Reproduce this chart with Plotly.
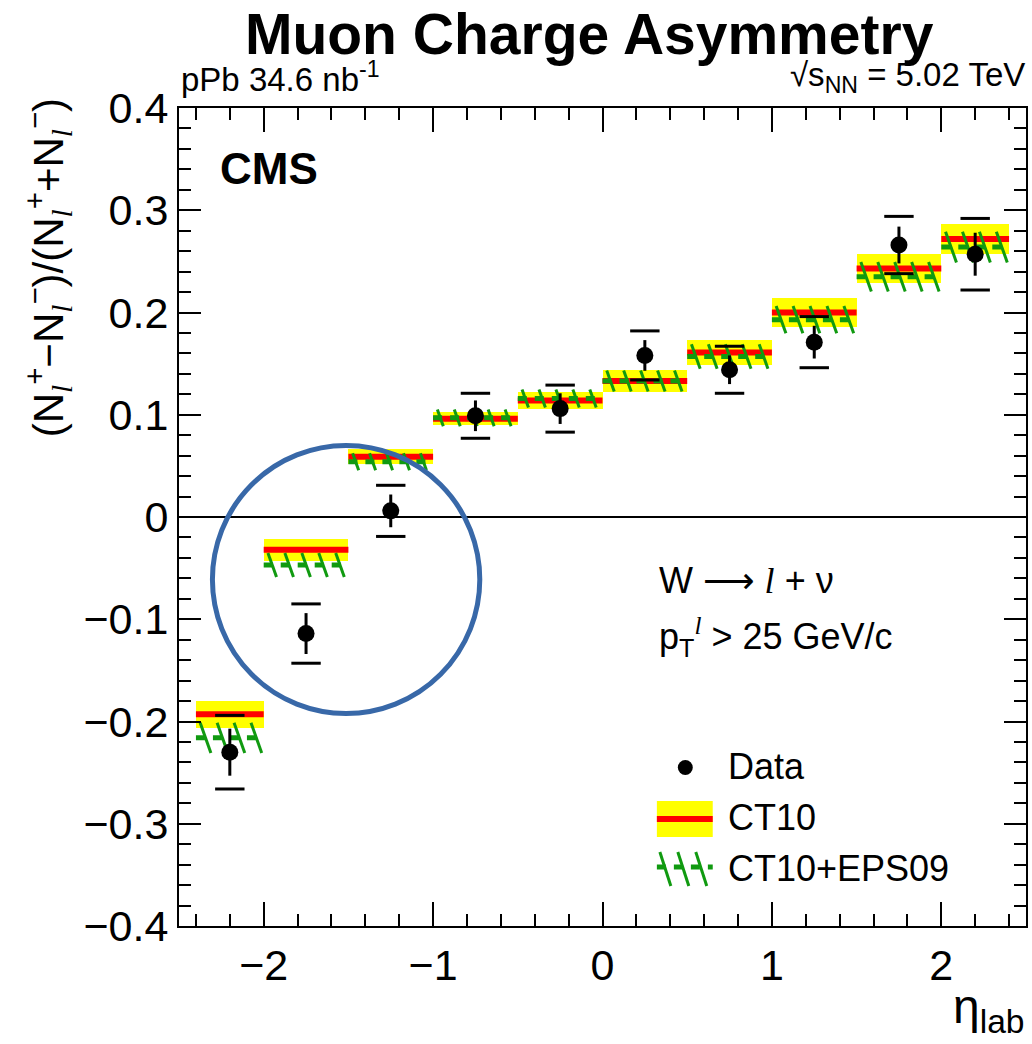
import plotly.graph_objects as go

# ---- data -------------------------------------------------------------
eta_lo = [-2.4, -2.0, -1.5, -1.0, -0.5, 0.0, 0.5, 1.0, 1.5, 2.0]
eta_hi = [-2.0, -1.5, -1.0, -0.5, 0.0, 0.5, 1.0, 1.5, 2.0, 2.4]
eta_pt = [-2.2, -1.75, -1.25, -0.75, -0.25, 0.25, 0.75, 1.25, 1.75, 2.2]

data_asym = [-0.230, -0.114, 0.006, 0.099, 0.106, 0.158, 0.144, 0.171, 0.266, 0.257]
data_stat = [0.023, 0.020, 0.016, 0.015, 0.015, 0.015, 0.014, 0.016, 0.018, 0.021]
data_tot = [0.036, 0.029, 0.025, 0.022, 0.023, 0.024, 0.023, 0.025, 0.028, 0.035]

ct10 = [-0.193, -0.032, 0.059, 0.096, 0.114, 0.133, 0.161, 0.200, 0.243, 0.272]
ct10_err = [0.0132, 0.0106, 0.0074, 0.0065, 0.0080, 0.0110, 0.0120, 0.0146, 0.0144, 0.0146]

eps09 = [-0.216, -0.047, 0.054, 0.097, 0.116, 0.133, 0.157, 0.193, 0.235, 0.264]
eps09_err = [0.0147, 0.0118, 0.0083, 0.0082, 0.0088, 0.0103, 0.0120, 0.0134, 0.0144, 0.0150]

x_ticks = [-2, -1, 0, 1, 2]

# ---- geometry ---------------------------------------------------------
W, H = 1032, 1044
L, R, T, B = 179, 1028, 108, 926
XR = (-2.5, 2.5)
YR = (-0.4, 0.4)
FONT = "Liberation Sans"
YELLOW, RED, GREEN, BLUE = "#ffff00", "#ff0000", "#109a10", "#3868a8"

px_per_x = (R - L) / (XR[1] - XR[0])
px_per_y = (B - T) / (YR[1] - YR[0])


def pxx(x):
    return (x - L) / (R - L)


def pxy(y):
    return (B - y) / (B - T)


fig = go.Figure()

# CT10 uncertainty boxes
fig.add_trace(go.Bar(
    x=[(a + b) / 2 for a, b in zip(eta_lo, eta_hi)],
    y=[2 * e for e in ct10_err],
    base=[c - e for c, e in zip(ct10, ct10_err)],
    width=[b - a for a, b in zip(eta_lo, eta_hi)],
    marker=dict(color=YELLOW, line=dict(width=0)),
    hoverinfo="skip", showlegend=False,
))

# CT10 central values
cx, cy = [], []
for a, b, c in zip(eta_lo, eta_hi, ct10):
    cx += [a, b, None]
    cy += [c, c, None]
fig.add_trace(go.Scatter(x=cx, y=cy, mode="lines",
                         line=dict(color=RED, width=6),
                         hoverinfo="skip", showlegend=False))

# CT10+EPS09 central values (dashed)
ex, ey = [], []
for a, b, c in zip(eta_lo, eta_hi, eps09):
    ex += [a, b, None]
    ey += [c, c, None]
fig.add_trace(go.Scatter(x=ex, y=ey, mode="lines",
                         line=dict(color=GREEN, width=5, dash="9px,8px"),
                         hoverinfo="skip", showlegend=False))

# CT10+EPS09 uncertainty band, drawn as steep back-slash hatching
hx, hy = [], []
step, offset, slope = 0.1, 0.025, 2.8
for a, b, c, e in zip(eta_lo, eta_hi, eps09, eps09_err):
    dx = (2 * e * px_per_y / slope) / px_per_x
    t = a + offset
    while t + dx <= b + 1e-9:
        hx += [t, t + dx, None]
        hy += [c + e, c - e, None]
        t += step
fig.add_trace(go.Scatter(x=hx, y=hy, mode="lines",
                         line=dict(color=GREEN, width=3),
                         hoverinfo="skip", showlegend=False))

# Data: statistical error bars
fig.add_trace(go.Scatter(
    x=eta_pt, y=data_asym, mode="markers",
    marker=dict(color="black", size=17),
    error_y=dict(type="data", array=data_stat, color="black", thickness=3, width=0),
    hoverinfo="skip", showlegend=False,
))

# Data: total uncertainty shown as caps
fig.add_trace(go.Scatter(
    x=eta_pt + eta_pt,
    y=[v + t for v, t in zip(data_asym, data_tot)] + [v - t for v, t in zip(data_asym, data_tot)],
    mode="markers",
    marker=dict(symbol="line-ew", size=21, line=dict(color="black", width=3)),
    hoverinfo="skip", showlegend=False,
))

axis_common = dict(
    showline=True, linecolor="black", linewidth=2, mirror="ticks",
    ticks="inside", tickcolor="black", tickwidth=2,
    showgrid=False,
    tickfont=dict(family=FONT, size=43, color="black"),
)

fig.update_xaxes(
    range=list(XR), tickvals=x_ticks, ticklen=24, zeroline=False,
    minor=dict(dtick=0.2, tick0=0, ticks="inside", ticklen=12, tickwidth=2,
               tickcolor="black", showgrid=False),
    **axis_common,
)
fig.update_yaxes(
    range=list(YR), dtick=0.1, tick0=0, ticklen=22,
    zeroline=True, zerolinecolor="black", zerolinewidth=1.5,
    minor=dict(dtick=0.02, tick0=0, ticks="inside", ticklen=12, tickwidth=2,
               tickcolor="black", showgrid=False),
    **axis_common,
)

shapes = []
annotations = []


def text(x, y, s, size, xanchor="left", bold=False, angle=0, yanchor="middle"):
    annotations.append(dict(
        x=pxx(x), y=pxy(y), xref="paper", yref="paper", text=s,
        showarrow=False, xanchor=xanchor, yanchor=yanchor, textangle=angle,
        font=dict(family=FONT, size=size, color="black",
                  weight="bold" if bold else "normal"),
    ))


text(590, 0, "Muon Charge Asymmetry", 57, xanchor="center", bold=True, yanchor="top")
text(179, 77, "pPb 34.6 nb<sup>-1</sup>", 33)
text(1029, 77, "√s<sub>NN</sub> = 5.02 TeV", 33, xanchor="right")
text(218, 168, "CMS", 44, bold=True)

ell = '<span style="font-family:Liberation Serif"><i>l</i></span>'
arrow = '<span style="font-family:DejaVu Sans">⟶</span>'
text(658, 580, "W " + arrow + " " + ell + " + ν", 36)
text(658, 637, "p<sub>T</sub><sup>" + ell + "</sup> > 25 GeV/c", 36)

text(47, 268,
     "(N<sub>" + ell + "</sub><sup>+</sup>−N<sub>" + ell + "</sub><sup>−</sup>)/(N<sub>"
     + ell + "</sub><sup>+</sup>+N<sub>" + ell + "</sub><sup>−</sup>)",
     42, xanchor="center", angle=-90)

text(1029, 1010, "η<sub>lab</sub>", 48, xanchor="right")

# Legend
text(727, 766, "Data", 36)
text(727, 817, "CT10", 36)
text(727, 868, "CT10+EPS09", 36)

shapes.append(dict(type="circle", xref="paper", yref="paper",
                   x0=pxx(679), x1=pxx(694), y0=pxy(775), y1=pxy(760),
                   fillcolor="black", line=dict(width=0)))
shapes.append(dict(type="rect", xref="paper", yref="paper",
                   x0=pxx(658), x1=pxx(714), y0=pxy(837), y1=pxy(801),
                   fillcolor=YELLOW, line=dict(width=0)))
shapes.append(dict(type="line", xref="paper", yref="paper",
                   x0=pxx(658), x1=pxx(714), y0=pxy(819), y1=pxy(819),
                   line=dict(color=RED, width=6)))
shapes.append(dict(type="line", xref="paper", yref="paper",
                   x0=pxx(658), x1=pxx(714), y0=pxy(867), y1=pxy(867),
                   line=dict(color=GREEN, width=5, dash="9px,8px")))
for hx0 in (661, 679, 697):
    shapes.append(dict(type="line", xref="paper", yref="paper",
                       x0=pxx(hx0), x1=pxx(hx0 + 11), y0=pxy(852), y1=pxy(886),
                       line=dict(color=GREEN, width=3)))

# Highlight circle around the most forward bins
shapes.append(dict(type="circle", xref="x", yref="y",
                   x0=(212.5 - L) / px_per_x + XR[0], x1=(480.5 - L) / px_per_x + XR[0],
                   y0=YR[1] - (713.5 - T) / px_per_y, y1=YR[1] - (445.5 - T) / px_per_y,
                   line=dict(color=BLUE, width=5)))

fig.update_layout(
    width=W, height=H,
    margin=dict(l=L, r=W - R, t=T, b=H - B, pad=0),
    paper_bgcolor="white", plot_bgcolor="white",
    barmode="overlay", bargap=0,
    showlegend=False,
    shapes=shapes, annotations=annotations,
    font=dict(family=FONT, color="black"),
)

fig.write_html("out.html")
